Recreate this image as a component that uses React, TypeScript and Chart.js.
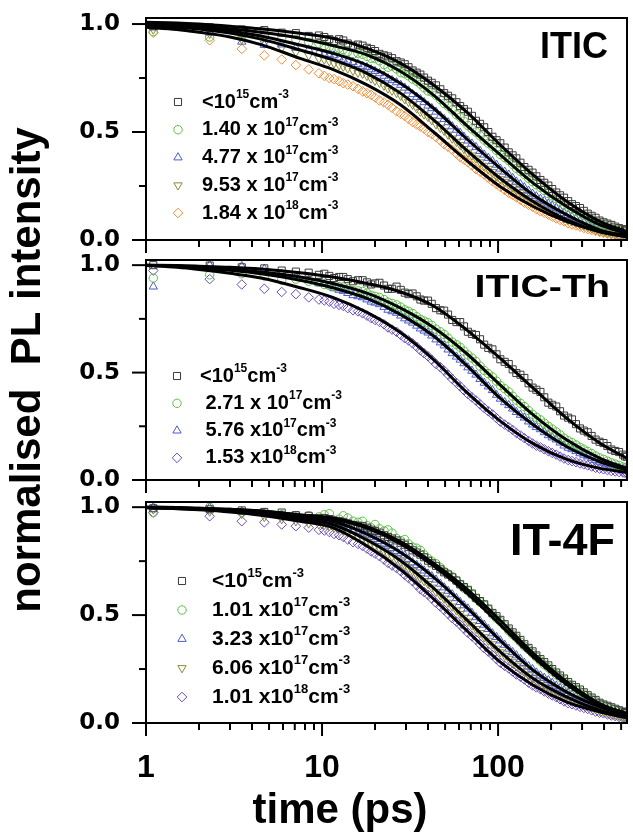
import React, { useEffect, useRef } from 'react';
import { Chart, registerables } from 'chart.js';
import { drawPoint } from 'chart.js/helpers';

Chart.register(...registerables);

// ---------- DATA ----------
// measured points, main time grid (ps)
const TIME_DATA = [
  1.1, 2.3, 3.5, 4.7, 5.9, 7.1, 8.4, 9.6,
  11, 12.5, 14, 16, 18, 20, 22.5, 25, 28, 31,
  34.5, 38, 42, 47, 52, 58, 64, 71, 79, 88,
  98, 109, 121, 134, 149, 165, 183, 203, 225, 250,
  277, 307, 340, 377, 418, 463, 513, 540,
];
// measured points, intermediate time grid (ps)
const TIME_DATA_B = [
  10.3, 11.7, 13.2, 15, 17, 19, 21.2, 23.7, 26.5, 29.5,
  32.7, 36.2, 40, 44.4, 49.4, 54.9, 60.9, 67.4, 74.9, 83.4,
  92.9, 103, 115, 127, 141, 157, 174, 193, 214, 237,
  263, 292, 323, 358, 397, 440, 487, 526,
];
// fit curves time grid (ps)
const TIME_FIT = [1, 1.5, 2, 3, 4.5, 7.5, 11.5, 18, 28, 43, 66, 103, 159, 246, 380, 540];
const X_TICK_LABELS = [1, 10, 100];

// ---- ITIC ----
const ITIC_LABELS = [
  '<10^{15}cm^{-3}',
  '1.40 x 10^{17}cm^{-3}',
  '4.77 x 10^{17}cm^{-3}',
  '9.53 x 10^{17}cm^{-3}',
  '1.84 x 10^{18}cm^{-3}',
];
const ITIC_D1 = [0.99, 0.985, 0.975, 0.972, 0.96, 0.958, 0.945, 0.947,
  0.93, 0.93, 0.91, 0.905, 0.89, 0.875, 0.855, 0.842, 0.822, 0.80,
  0.775, 0.752, 0.728, 0.698, 0.668, 0.638, 0.606, 0.575, 0.538, 0.50,
  0.462, 0.428, 0.392, 0.358, 0.325, 0.295, 0.265, 0.236, 0.207, 0.18,
  0.157, 0.135, 0.112, 0.09, 0.076, 0.062, 0.05, 0.044];
const ITIC_D1B = [0.94, 0.922, 0.924, 0.9, 0.9, 0.884, 0.862, 0.85, 0.828, 0.814,
  0.785, 0.766, 0.738, 0.716, 0.68, 0.656, 0.62, 0.594, 0.552, 0.522,
  0.478, 0.448, 0.406, 0.378, 0.338, 0.312, 0.278, 0.252, 0.22, 0.196,
  0.166, 0.148, 0.122, 0.103, 0.082, 0.07, 0.055, 0.047];
const ITIC_D2 = [0.965, 0.94, 0.955, 0.95, 0.935, 0.928, 0.915, 0.91,
  0.895, 0.888, 0.872, 0.865, 0.85, 0.84, 0.812, 0.805, 0.775, 0.76,
  0.735, 0.705, 0.685, 0.65, 0.62, 0.58, 0.55, 0.515, 0.482, 0.448,
  0.415, 0.382, 0.35, 0.318, 0.286, 0.256, 0.229, 0.204, 0.178, 0.153,
  0.133, 0.113, 0.094, 0.075, 0.062, 0.05, 0.04, 0.034];
const ITIC_D2B = [0.9, 0.885, 0.882, 0.86, 0.86, 0.842, 0.83, 0.8, 0.792, 0.77,
  0.745, 0.722, 0.69, 0.67, 0.632, 0.602, 0.568, 0.53, 0.5, 0.463,
  0.434, 0.396, 0.368, 0.332, 0.304, 0.27, 0.244, 0.215, 0.192, 0.164,
  0.145, 0.122, 0.105, 0.083, 0.07, 0.055, 0.046, 0.036];
const ITIC_D3 = [0.985, 0.96, 0.918, 0.903, 0.905, 0.89, 0.882, 0.868,
  0.86, 0.845, 0.83, 0.815, 0.80, 0.782, 0.76, 0.74, 0.718, 0.692,
  0.662, 0.638, 0.61, 0.575, 0.545, 0.51, 0.478, 0.446, 0.412, 0.38,
  0.348, 0.316, 0.287, 0.258, 0.228, 0.202, 0.18, 0.158, 0.137, 0.115,
  0.098, 0.082, 0.066, 0.05, 0.041, 0.033, 0.026, 0.022];
const ITIC_D3B = [0.862, 0.855, 0.836, 0.824, 0.806, 0.79, 0.772, 0.748, 0.73, 0.705,
  0.675, 0.652, 0.622, 0.594, 0.56, 0.526, 0.496, 0.46, 0.43, 0.395,
  0.365, 0.33, 0.302, 0.27, 0.244, 0.214, 0.19, 0.168, 0.148, 0.125,
  0.107, 0.09, 0.073, 0.059, 0.045, 0.037, 0.029, 0.024];
const ITIC_D4 = [0.975, 0.955, 0.93, 0.91, 0.89, 0.87, 0.855, 0.84,
  0.828, 0.81, 0.795, 0.775, 0.76, 0.738, 0.715, 0.692, 0.668, 0.64,
  0.61, 0.582, 0.555, 0.52, 0.488, 0.455, 0.422, 0.392, 0.36, 0.33,
  0.298, 0.27, 0.245, 0.22, 0.194, 0.171, 0.151, 0.131, 0.112, 0.093,
  0.08, 0.067, 0.054, 0.041, 0.034, 0.027, 0.02, 0.017];
const ITIC_D4B = [0.836, 0.818, 0.803, 0.784, 0.77, 0.748, 0.728, 0.702, 0.682, 0.652,
  0.627, 0.594, 0.57, 0.536, 0.506, 0.47, 0.44, 0.405, 0.378, 0.344,
  0.315, 0.282, 0.259, 0.231, 0.208, 0.181, 0.162, 0.14, 0.123, 0.101,
  0.088, 0.073, 0.061, 0.047, 0.038, 0.03, 0.023, 0.018];
const ITIC_D5 = [0.96, 0.925, 0.885, 0.855, 0.836, 0.81, 0.79, 0.772,
  0.75, 0.735, 0.72, 0.70, 0.68, 0.66, 0.637, 0.612, 0.585, 0.56,
  0.535, 0.515, 0.49, 0.46, 0.432, 0.40, 0.372, 0.345, 0.316, 0.288,
  0.258, 0.232, 0.208, 0.186, 0.163, 0.143, 0.126, 0.108, 0.093, 0.078,
  0.067, 0.056, 0.046, 0.037, 0.03, 0.024, 0.018, 0.015];
const ITIC_D5B = [0.76, 0.745, 0.726, 0.712, 0.688, 0.672, 0.646, 0.626, 0.596, 0.574,
  0.546, 0.526, 0.5, 0.477, 0.444, 0.418, 0.384, 0.36, 0.328, 0.303,
  0.272, 0.246, 0.218, 0.198, 0.173, 0.154, 0.133, 0.118, 0.1, 0.086,
  0.072, 0.062, 0.05, 0.042, 0.033, 0.027, 0.021, 0.016];
const ITIC_F1 = [1.008, 1.005, 1.0, 0.99, 0.978, 0.957, 0.934, 0.887, 0.818, 0.718, 0.594, 0.44, 0.30, 0.178, 0.085, 0.039];
const ITIC_F2 = [1.0, 0.996, 0.99, 0.978, 0.962, 0.934, 0.90, 0.857, 0.78, 0.671, 0.532, 0.394, 0.262, 0.154, 0.07, 0.031];
const ITIC_F3 = [0.997, 0.99, 0.983, 0.968, 0.945, 0.903, 0.865, 0.81, 0.725, 0.61, 0.47, 0.332, 0.208, 0.116, 0.046, 0.02];
const ITIC_F4 = [0.993, 0.985, 0.977, 0.958, 0.93, 0.88, 0.835, 0.772, 0.679, 0.556, 0.417, 0.285, 0.177, 0.093, 0.038, 0.015];
const ITIC_F5 = [0.985, 0.975, 0.962, 0.94, 0.905, 0.841, 0.79, 0.718, 0.625, 0.5, 0.37, 0.247, 0.154, 0.085, 0.038, 0.015];

// ---- ITIC-Th ----
const ITICTH_LABELS = [
  '<10^{15}cm^{-3}',
  ' 2.71 x 10^{17}cm^{-3}',
  ' 5.76 x10^{17}cm^{-3}',
  ' 1.53 x10^{18}cm^{-3}',
];
const ITICTH_D1 = [1.0, 0.998, 0.99, 0.985, 0.975, 0.97, 0.965, 0.955,
  0.95, 0.945, 0.935, 0.93, 0.92, 0.915, 0.905, 0.89, 0.885, 0.865,
  0.855, 0.835, 0.82, 0.79, 0.77, 0.735, 0.715, 0.68, 0.655, 0.615,
  0.585, 0.55, 0.515, 0.49, 0.45, 0.42, 0.385, 0.35, 0.32, 0.29,
  0.26, 0.23, 0.205, 0.178, 0.158, 0.135, 0.118, 0.108];
const ITICTH_D1B = [0.96, 0.94, 0.945, 0.925, 0.93, 0.91, 0.918, 0.89, 0.9, 0.872,
  0.868, 0.84, 0.835, 0.8, 0.788, 0.745, 0.735, 0.69, 0.675, 0.63,
  0.608, 0.562, 0.54, 0.498, 0.475, 0.43, 0.41, 0.36, 0.342, 0.3,
  0.282, 0.24, 0.222, 0.188, 0.172, 0.142, 0.13, 0.11];
const ITICTH_D2 = [0.94, 0.955, 0.96, 0.95, 0.93, 0.935, 0.925, 0.92,
  0.905, 0.90, 0.89, 0.88, 0.87, 0.855, 0.84, 0.822, 0.805, 0.785,
  0.76, 0.74, 0.72, 0.69, 0.66, 0.63, 0.60, 0.568, 0.53, 0.495,
  0.46, 0.425, 0.39, 0.357, 0.323, 0.292, 0.265, 0.237, 0.21, 0.183,
  0.163, 0.143, 0.123, 0.103, 0.088, 0.074, 0.061, 0.054];
const ITICTH_D2B = [0.91, 0.9, 0.898, 0.882, 0.878, 0.86, 0.85, 0.828, 0.815, 0.792,
  0.775, 0.748, 0.732, 0.702, 0.678, 0.642, 0.618, 0.582, 0.552, 0.51,
  0.48, 0.44, 0.41, 0.372, 0.342, 0.306, 0.28, 0.25, 0.224, 0.195,
  0.174, 0.152, 0.133, 0.112, 0.096, 0.08, 0.068, 0.057];
const ITICTH_D3 = [0.90, 1.0, 0.995, 0.982, 0.96, 0.945, 0.93, 0.915,
  0.905, 0.885, 0.87, 0.855, 0.84, 0.825, 0.805, 0.785, 0.765, 0.742,
  0.718, 0.695, 0.672, 0.64, 0.607, 0.574, 0.543, 0.508, 0.47, 0.435,
  0.396, 0.362, 0.332, 0.303, 0.272, 0.246, 0.222, 0.198, 0.174, 0.15,
  0.134, 0.117, 0.101, 0.085, 0.073, 0.062, 0.051, 0.045];
const ITICTH_D3B = [0.912, 0.892, 0.88, 0.86, 0.85, 0.83, 0.818, 0.792, 0.778, 0.752,
  0.732, 0.705, 0.686, 0.654, 0.626, 0.59, 0.56, 0.524, 0.49, 0.452,
  0.418, 0.378, 0.348, 0.316, 0.29, 0.258, 0.236, 0.208, 0.188, 0.16,
  0.143, 0.124, 0.11, 0.092, 0.08, 0.067, 0.057, 0.047];
const ITICTH_D4 = [0.975, 0.935, 0.91, 0.89, 0.875, 0.865, 0.85, 0.84,
  0.83, 0.815, 0.80, 0.785, 0.765, 0.745, 0.725, 0.70, 0.675, 0.65,
  0.62, 0.59, 0.56, 0.525, 0.49, 0.452, 0.418, 0.385, 0.352, 0.32,
  0.288, 0.258, 0.233, 0.207, 0.182, 0.16, 0.143, 0.126, 0.109, 0.093,
  0.083, 0.073, 0.063, 0.053, 0.046, 0.04, 0.035, 0.032];
const ITICTH_D4B = [0.836, 0.82, 0.81, 0.79, 0.776, 0.754, 0.736, 0.71, 0.69, 0.66,
  0.636, 0.604, 0.576, 0.54, 0.509, 0.47, 0.436, 0.4, 0.37, 0.335,
  0.305, 0.272, 0.246, 0.219, 0.195, 0.17, 0.152, 0.134, 0.118, 0.1,
  0.088, 0.077, 0.068, 0.057, 0.05, 0.042, 0.037, 0.033];
const ITICTH_F1 = [1.0, 0.998, 0.995, 0.99, 0.982, 0.965, 0.945, 0.915, 0.875, 0.81, 0.70, 0.566, 0.426, 0.287, 0.171, 0.101];
const ITICTH_F2 = [1.0, 0.996, 0.99, 0.98, 0.968, 0.945, 0.915, 0.87, 0.80, 0.71, 0.59, 0.442, 0.302, 0.186, 0.101, 0.054];
const ITICTH_F3 = [1.0, 0.995, 0.988, 0.976, 0.96, 0.93, 0.895, 0.845, 0.77, 0.67, 0.535, 0.38, 0.256, 0.155, 0.085, 0.046];
const ITICTH_F4 = [0.998, 0.99, 0.98, 0.962, 0.94, 0.895, 0.85, 0.78, 0.685, 0.56, 0.41, 0.274, 0.168, 0.096, 0.054, 0.035];

// ---- IT-4F ----
const IT4F_LABELS = [
  '<10^{15}cm^{-3}',
  '1.01 x10^{17}cm^{-3}',
  '3.23 x10^{17}cm^{-3}',
  '6.06 x10^{17}cm^{-3}',
  '1.01 x10^{18}cm^{-3}',
];
const IT4F_D1 = [0.995, 0.99, 0.985, 0.978, 0.975, 0.963, 0.96, 0.948,
  0.945, 0.935, 0.925, 0.915, 0.905, 0.89, 0.87, 0.855, 0.835, 0.815,
  0.79, 0.768, 0.74, 0.712, 0.688, 0.66, 0.63, 0.60, 0.565, 0.53,
  0.495, 0.458, 0.42, 0.385, 0.348, 0.313, 0.282, 0.25, 0.22, 0.19,
  0.166, 0.142, 0.118, 0.094, 0.08, 0.066, 0.053, 0.047];
const IT4F_D1B = [0.95, 0.938, 0.932, 0.918, 0.912, 0.896, 0.882, 0.862, 0.846, 0.826,
  0.8, 0.78, 0.752, 0.728, 0.698, 0.675, 0.643, 0.617, 0.58, 0.55,
  0.51, 0.478, 0.438, 0.404, 0.365, 0.332, 0.296, 0.267, 0.234, 0.206,
  0.177, 0.155, 0.129, 0.107, 0.086, 0.073, 0.059, 0.05];
const IT4F_D2 = [0.975, 1.0, 0.975, 0.975, 0.965, 0.96, 0.96, 0.955,
  0.97, 0.945, 0.95, 0.93, 0.915, 0.92, 0.89, 0.88, 0.845, 0.83,
  0.81, 0.78, 0.75, 0.72, 0.69, 0.66, 0.625, 0.595, 0.56, 0.525,
  0.485, 0.45, 0.41, 0.375, 0.34, 0.305, 0.27, 0.24, 0.21, 0.18,
  0.157, 0.133, 0.11, 0.088, 0.073, 0.06, 0.048, 0.04];
const IT4F_D2B = [0.965, 0.94, 0.96, 0.935, 0.935, 0.905, 0.9, 0.895, 0.855, 0.85,
  0.815, 0.8, 0.762, 0.738, 0.702, 0.678, 0.64, 0.612, 0.576, 0.545,
  0.503, 0.47, 0.428, 0.394, 0.356, 0.322, 0.287, 0.256, 0.224, 0.196,
  0.168, 0.145, 0.121, 0.099, 0.08, 0.066, 0.054, 0.044];
const IT4F_D3 = [1.0, 0.998, 0.98, 0.972, 0.962, 0.955, 0.945, 0.94,
  0.93, 0.92, 0.905, 0.888, 0.872, 0.852, 0.83, 0.81, 0.788, 0.76,
  0.732, 0.706, 0.68, 0.645, 0.612, 0.578, 0.545, 0.51, 0.472, 0.435,
  0.398, 0.362, 0.328, 0.296, 0.262, 0.233, 0.209, 0.185, 0.162, 0.138,
  0.122, 0.106, 0.09, 0.073, 0.061, 0.05, 0.039, 0.033];
const IT4F_D3B = [0.936, 0.924, 0.914, 0.895, 0.882, 0.86, 0.842, 0.822, 0.797, 0.776,
  0.744, 0.72, 0.692, 0.664, 0.628, 0.596, 0.56, 0.53, 0.49, 0.455,
  0.415, 0.382, 0.344, 0.313, 0.278, 0.249, 0.22, 0.198, 0.172, 0.151,
  0.13, 0.113, 0.098, 0.081, 0.067, 0.055, 0.044, 0.036];
const IT4F_D4 = [0.99, 0.98, 0.97, 0.955, 0.945, 0.935, 0.925, 0.92,
  0.912, 0.90, 0.882, 0.862, 0.842, 0.82, 0.796, 0.772, 0.748, 0.718,
  0.687, 0.658, 0.628, 0.592, 0.558, 0.522, 0.488, 0.453, 0.417, 0.382,
  0.345, 0.312, 0.282, 0.252, 0.222, 0.196, 0.176, 0.156, 0.135, 0.116,
  0.101, 0.087, 0.072, 0.057, 0.048, 0.038, 0.029, 0.025];
const IT4F_D4B = [0.918, 0.905, 0.892, 0.87, 0.853, 0.83, 0.81, 0.783, 0.762, 0.732,
  0.704, 0.672, 0.645, 0.608, 0.577, 0.54, 0.506, 0.47, 0.436, 0.398,
  0.365, 0.328, 0.298, 0.266, 0.238, 0.208, 0.187, 0.165, 0.146, 0.125,
  0.109, 0.094, 0.08, 0.064, 0.053, 0.042, 0.034, 0.027];
const IT4F_D5 = [0.975, 0.958, 0.935, 0.93, 0.92, 0.912, 0.905, 0.895,
  0.885, 0.87, 0.85, 0.83, 0.808, 0.785, 0.757, 0.73, 0.703, 0.672,
  0.638, 0.607, 0.577, 0.54, 0.506, 0.47, 0.437, 0.402, 0.366, 0.331,
  0.296, 0.265, 0.239, 0.214, 0.187, 0.165, 0.146, 0.128, 0.11, 0.092,
  0.081, 0.07, 0.059, 0.048, 0.04, 0.032, 0.024, 0.02];
const IT4F_D5B = [0.892, 0.876, 0.862, 0.838, 0.82, 0.795, 0.773, 0.742, 0.718, 0.686,
  0.657, 0.62, 0.594, 0.557, 0.524, 0.486, 0.455, 0.418, 0.386, 0.347,
  0.315, 0.279, 0.253, 0.225, 0.202, 0.174, 0.157, 0.136, 0.12, 0.1,
  0.087, 0.075, 0.065, 0.053, 0.045, 0.035, 0.028, 0.021];
const IT4F_F1 = [1.0, 0.998, 0.995, 0.99, 0.982, 0.965, 0.95, 0.91, 0.84, 0.74, 0.622, 0.475, 0.321, 0.19, 0.089, 0.043];
const IT4F_F2 = [1.0, 0.998, 0.995, 0.99, 0.982, 0.963, 0.945, 0.903, 0.83, 0.728, 0.605, 0.455, 0.305, 0.178, 0.083, 0.04];
const IT4F_F3 = [0.998, 0.995, 0.992, 0.985, 0.975, 0.955, 0.935, 0.875, 0.79, 0.676, 0.537, 0.382, 0.243, 0.143, 0.074, 0.035];
const IT4F_F4 = [0.998, 0.994, 0.99, 0.982, 0.97, 0.945, 0.92, 0.848, 0.752, 0.625, 0.48, 0.33, 0.205, 0.12, 0.058, 0.027];
const IT4F_F5 = [0.997, 0.993, 0.988, 0.978, 0.963, 0.935, 0.905, 0.82, 0.71, 0.575, 0.43, 0.282, 0.174, 0.097, 0.051, 0.024];

// ---------- STYLE ----------
const FONT = "'Liberation Sans', Arial, Helvetica, sans-serif";
const FONT_WIDE = "'DejaVu Sans', Verdana, sans-serif";
const C = {
  black: '#3a3a3a',
  green: '#5fbd48',
  blue: '#4a5dc6',
  olive: '#8c8b3a',
  orange: '#f58c34',
  purple: '#6a4bc0',
};
const SQUARE = { style: 'rect', rotation: 0, radius: 5 };
const CIRCLE = { style: 'circle', rotation: 0, radius: 4.2 };
const TRI_UP = { style: 'triangle', rotation: 0, radius: 4.8 };
const TRI_DOWN = { style: 'triangle', rotation: 180, radius: 4.8 };
const DIAMOND = { style: 'rectRot', rotation: 0, radius: 4.8 };

type Series = { label: string; color: string; marker: any; values: number[]; valuesB: number[]; fit: number[] };
type Panel = {
  name: string;
  series: Series[];
  padding: { top: number; bottom: number; left: number; right: number };
  yWidth: number;
  xHeight: number;
  yMax: number;
  xLabels: boolean;
  yTitle: boolean;
  xTitle: boolean;
  title: { size: number; scaleX: number; dxRight: number; dyBase: number };
  legend: { dxMarker: number; dxText: number; dy0: number; step: number; size: number };
};

const PANELS: Panel[] = [
  {
    name: 'ITIC',
    series: [
      { label: ITIC_LABELS[0], color: C.black, marker: SQUARE, values: ITIC_D1, valuesB: ITIC_D1B, fit: ITIC_F1 },
      { label: ITIC_LABELS[1], color: C.green, marker: CIRCLE, values: ITIC_D2, valuesB: ITIC_D2B, fit: ITIC_F2 },
      { label: ITIC_LABELS[2], color: C.blue, marker: TRI_UP, values: ITIC_D3, valuesB: ITIC_D3B, fit: ITIC_F3 },
      { label: ITIC_LABELS[3], color: C.olive, marker: TRI_DOWN, values: ITIC_D4, valuesB: ITIC_D4B, fit: ITIC_F4 },
      { label: ITIC_LABELS[4], color: C.orange, marker: DIAMOND, values: ITIC_D5, valuesB: ITIC_D5B, fit: ITIC_F5 },
    ],
    padding: { top: 18, bottom: 577, left: 0, right: 6 },
    yWidth: 146,
    xHeight: 20,
    yMax: 1.028,
    xLabels: false,
    yTitle: false,
    xTitle: false,
    title: { size: 36, scaleX: 1, dxRight: 19, dyBase: 40 },
    legend: { dxMarker: 32, dxText: 56, dy0: 84, step: 27.75, size: 20 },
  },
  {
    name: 'ITIC-Th',
    series: [
      { label: ITICTH_LABELS[0], color: C.black, marker: SQUARE, values: ITICTH_D1, valuesB: ITICTH_D1B, fit: ITICTH_F1 },
      { label: ITICTH_LABELS[1], color: C.green, marker: CIRCLE, values: ITICTH_D2, valuesB: ITICTH_D2B, fit: ITICTH_F2 },
      { label: ITICTH_LABELS[2], color: C.blue, marker: TRI_UP, values: ITICTH_D3, valuesB: ITICTH_D3B, fit: ITICTH_F3 },
      { label: ITICTH_LABELS[3], color: C.purple, marker: DIAMOND, values: ITICTH_D4, valuesB: ITICTH_D4B, fit: ITICTH_F4 },
    ],
    padding: { top: 260, bottom: 337, left: 0, right: 6 },
    yWidth: 146,
    xHeight: 20,
    yMax: 1.024,
    xLabels: false,
    yTitle: true,
    xTitle: false,
    title: { size: 30.5, scaleX: 1.29, dxRight: 17, dyBase: 37 },
    legend: { dxMarker: 31, dxText: 54, dy0: 116, step: 27.3, size: 20 },
  },
  {
    name: 'IT-4F',
    series: [
      { label: IT4F_LABELS[0], color: C.black, marker: SQUARE, values: IT4F_D1, valuesB: IT4F_D1B, fit: IT4F_F1 },
      { label: IT4F_LABELS[1], color: C.green, marker: CIRCLE, values: IT4F_D2, valuesB: IT4F_D2B, fit: IT4F_F2 },
      { label: IT4F_LABELS[2], color: C.blue, marker: TRI_UP, values: IT4F_D3, valuesB: IT4F_D3B, fit: IT4F_F3 },
      { label: IT4F_LABELS[3], color: C.olive, marker: TRI_DOWN, values: IT4F_D4, valuesB: IT4F_D4B, fit: IT4F_F4 },
      { label: IT4F_LABELS[4], color: C.purple, marker: DIAMOND, values: IT4F_D5, valuesB: IT4F_D5B, fit: IT4F_F5 },
    ],
    padding: { top: 502, bottom: 0, left: 53, right: 6 },
    yWidth: 93,
    xHeight: 63.6,
    yMax: 1.024,
    xLabels: true,
    yTitle: false,
    xTitle: true,
    title: { size: 45, scaleX: 1, dxRight: 12, dyBase: 53 },
    legend: { dxMarker: 36, dxText: 66, dy0: 79, step: 29, size: 21 },
  },
];

function drawRich(ctx: CanvasRenderingContext2D, text: string, x: number, y: number, size: number) {
  const parts = text.split(/(\^\{[^}]*\})/);
  let cx = x;
  ctx.textAlign = 'left';
  ctx.textBaseline = 'middle';
  for (const part of parts) {
    if (!part) continue;
    if (part.startsWith('^{')) {
      const s = part.slice(2, -1);
      ctx.font = `bold ${Math.round(size * 0.62)}px ${FONT}`;
      ctx.fillText(s, cx, y - size * 0.36);
      cx += ctx.measureText(s).width;
    } else {
      ctx.font = `bold ${size}px ${FONT}`;
      ctx.fillText(part, cx, y);
      cx += ctx.measureText(part).width;
    }
  }
}

function makePlugins(p: Panel) {
  const frame = {
    id: 'frameTicks',
    afterDatasetsDraw(chart: any) {
      const { ctx, chartArea: a, scales } = chart;
      ctx.save();
      ctx.strokeStyle = '#000';
      ctx.lineWidth = 2;
      ctx.strokeRect(a.left, a.top, a.right - a.left, a.bottom - a.top);
      scales.y.ticks.forEach((t: any) => {
        const y = scales.y.getPixelForValue(t.value);
        const major = Math.abs(t.value * 2 - Math.round(t.value * 2)) < 1e-6;
        const len = major ? 14 : 7;
        ctx.beginPath();
        ctx.moveTo(a.left - len, y);
        ctx.lineTo(a.left, y);
        ctx.stroke();
      });
      scales.x.ticks.forEach((t: any) => {
        const v = t.value;
        const e = Math.pow(10, Math.floor(Math.log10(v) + 1e-9));
        const m = v / e;
        if (Math.abs(m - Math.round(m)) > 1e-6) return;
        const major = Math.round(m) === 1;
        const x = scales.x.getPixelForValue(v);
        ctx.beginPath();
        ctx.moveTo(x, a.bottom);
        ctx.lineTo(x, a.bottom + (major ? 13 : 7));
        ctx.stroke();
      });
      ctx.restore();
    },
  };
  const title = {
    id: 'panelTitle',
    afterDraw(chart: any) {
      const { ctx, chartArea: a } = chart;
      ctx.save();
      ctx.font = `bold ${p.title.size}px ${FONT}`;
      ctx.fillStyle = '#000';
      ctx.textAlign = 'right';
      ctx.textBaseline = 'alphabetic';
      ctx.translate(a.right - p.title.dxRight, a.top + p.title.dyBase);
      ctx.scale(p.title.scaleX, 1);
      ctx.fillText(p.name, 0, 0);
      ctx.restore();
    },
  };
  const legend = {
    id: 'panelLegend',
    afterDraw(chart: any) {
      const { ctx, chartArea: a } = chart;
      const L = p.legend;
      ctx.save();
      p.series.forEach((s, i) => {
        const y = a.top + L.dy0 + i * L.step;
        ctx.strokeStyle = s.color;
        ctx.fillStyle = 'rgba(0,0,0,0)';
        ctx.lineWidth = 1;
        drawPoint(ctx, { pointStyle: s.marker.style, rotation: s.marker.rotation, radius: s.marker.radius, borderWidth: 1 } as any,
          a.left + L.dxMarker, y);
        ctx.fillStyle = '#000';
        drawRich(ctx, s.label, a.left + L.dxText, y, L.size);
      });
      ctx.restore();
    },
  };
  return [frame, title, legend];
}

function buildConfig(p: Panel): any {
  const datasets: any[] = [];
  p.series.forEach((s) => {
    datasets.push({
      label: s.label + ' fit',
      data: TIME_FIT.map((t, k) => ({ x: t, y: s.fit[k] })),
      borderColor: '#000',
      borderWidth: 3,
      pointRadius: 0,
      showLine: true,
      fill: false,
      cubicInterpolationMode: 'monotone',
      order: 0,
    });
  });
  p.series.forEach((s, i) => {
    const pts = TIME_DATA.map((t, k) => ({ x: t, y: s.values[k] })).concat(
      TIME_DATA_B.map((t, k) => ({ x: t, y: s.valuesB[k] })),
    );
    datasets.push({
      label: s.label,
      data: pts,
      showLine: false,
      pointStyle: s.marker.style,
      pointRotation: s.marker.rotation,
      pointRadius: s.marker.radius,
      pointBorderColor: s.color,
      pointBackgroundColor: 'rgba(0,0,0,0)',
      pointBorderWidth: 1,
      order: 1 + i,
    });
  });
  return {
    type: 'line',
    data: { datasets },
    plugins: makePlugins(p),
    options: {
      responsive: false,
      animation: false,
      events: [],
      layout: { padding: p.padding },
      plugins: {
        legend: { display: false },
        tooltip: { enabled: false },
        title: p.xTitle
          ? {
              display: true,
              text: 'time (ps)',
              position: 'bottom',
              color: '#000',
              font: { family: FONT, size: 42, weight: 'bold' },
              padding: { top: 0, bottom: 0 },
            }
          : { display: false },
      },
      scales: {
        x: {
          type: 'logarithmic',
          min: 1,
          max: 540,
          grid: { display: false },
          border: { display: false },
          ticks: {
            display: p.xLabels,
            autoSkip: false,
            minRotation: 0,
            maxRotation: 0,
            padding: 18,
            color: '#000',
            font: { family: FONT, size: 32, weight: 'bold' },
            callback: (v: any) => (X_TICK_LABELS.includes(Number(v)) ? String(v) : ''),
          },
          afterFit: (s: any) => {
            s.height = p.xHeight;
            s.paddingLeft = 0;
            s.paddingRight = 0;
            s.paddingTop = 0;
            s.paddingBottom = 0;
          },
        },
        y: {
          type: 'linear',
          min: 0,
          max: p.yMax,
          grid: { display: false },
          border: { display: false },
          ticks: {
            stepSize: 0.25,
            includeBounds: false,
            autoSkip: false,
            padding: 18,
            color: '#000',
            font: { family: FONT_WIDE, size: 23, weight: 'bold' },
            callback: (v: any) => {
              const n = Number(v);
              return Math.abs(n * 2 - Math.round(n * 2)) < 1e-6 ? n.toFixed(1) : '';
            },
          },
          title: p.yTitle
            ? {
                display: true,
                text: 'normalised  PL intensity',
                color: '#000',
                font: { family: FONT, size: 42, weight: 'bold' },
                padding: { top: 3, bottom: 0 },
              }
            : { display: false },
          afterFit: (s: any) => {
            s.width = p.yWidth;
            s.paddingLeft = 0;
            s.paddingRight = 0;
            s.paddingTop = 0;
            s.paddingBottom = 0;
          },
        },
      },
    },
  };
}

export default function App() {
  const refs = useRef<(HTMLCanvasElement | null)[]>([]);
  useEffect(() => {
    const charts = PANELS.map((p, i) => new Chart(refs.current[i] as HTMLCanvasElement, buildConfig(p)));
    return () => charts.forEach((c) => c.destroy());
  }, []);
  return (
    <div style={{ position: 'absolute', left: 0, top: 0, width: 633, height: 837, background: '#fff', overflow: 'hidden' }}>
      {PANELS.map((p, i) => (
        <canvas
          key={p.name}
          ref={(el) => {
            refs.current[i] = el;
          }}
          width={633}
          height={837}
          style={{ position: 'absolute', left: 0, top: 0 }}
        />
      ))}
    </div>
  );
}
